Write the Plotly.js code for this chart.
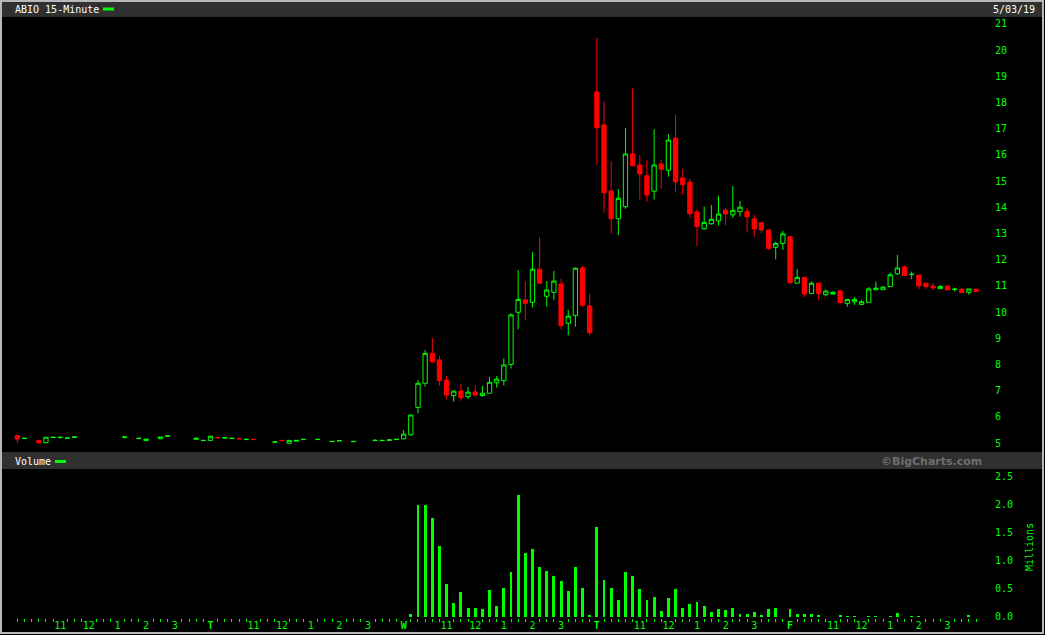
<!DOCTYPE html>
<html><head><meta charset="utf-8">
<script src="https://cdn.plot.ly/plotly-3.0.1.min.js"></script>
<style>html,body{margin:0;padding:0;background:#000;}#chart{width:1045px;height:635px;}</style>
</head><body><div id="chart"></div>
<script>
// 15-minute slots, 27 per day (9:30 ... 16:00), 5 days
const slot = [0,1,3,4,5,6,7,8,15,17,18,20,21,25,26,
  27,28,29,30,31,32,33,36,37,38,39,40,42,44,45,47,50,51,52,53,
  54,55,56,57,58,59,60,61,62,63,64,65,66,67,68,69,70,71,72,73,74,75,76,77,78,79,80,
  81,82,83,84,85,86,87,88,89,90,91,92,93,94,95,96,97,98,99,100,101,102,103,104,105,106,107,
  108,109,110,111,112,113,114,115,116,117,118,119,120,121,122,123,124,125,126,127,128,129,130,131,132,133,134];
const open = [5.28,5.17,5.09,5.01,5.21,5.21,5.18,5.22,5.22,5.17,5.09,5.16,5.26,5.14,5.09,
  5.10,5.21,5.19,5.17,5.17,5.13,5.14,5.03,5.10,4.99,5.07,5.13,5.13,5.05,5.08,5.05,5.09,5.09,5.10,5.13,
  5.16,5.31,6.36,7.28,8.42,8.17,7.40,6.81,6.98,6.77,6.95,6.81,6.90,7.30,7.38,8.00,9.99,10.46,10.37,11.63,10.60,10.75,11.07,9.57,9.87,11.68,10.23,
  18.40,17.14,14.62,13.56,14.02,16.03,15.61,15.20,14.61,15.65,15.41,16.64,15.11,14.96,13.82,13.18,13.37,13.48,13.89,13.71,13.83,13.84,13.55,13.41,13.13,12.47,12.62,
  12.87,11.10,11.32,10.71,11.10,10.66,10.68,10.80,10.33,10.39,10.29,10.37,10.85,10.85,10.97,11.46,11.72,11.43,11.41,11.10,10.99,10.89,10.99,10.86,10.87,10.75,10.87];
const high = [5.33,5.18,5.13,5.22,5.22,5.22,5.19,5.23,5.23,5.18,5.15,5.23,5.27,5.18,5.10,
  5.26,5.21,5.20,5.18,5.17,5.14,5.14,5.04,5.10,5.10,5.10,5.14,5.14,5.06,5.09,5.06,5.15,5.10,5.12,5.14,
  5.50,6.07,7.40,8.55,9.01,8.32,7.56,7.02,7.25,7.13,7.21,7.18,7.52,7.56,8.24,9.95,11.60,11.18,12.29,12.87,11.18,11.56,11.26,10.08,11.70,11.76,10.69,
  20.46,18.03,15.76,14.69,17.02,18.53,15.99,15.80,16.98,15.80,16.79,17.52,15.46,15.08,13.90,14.02,14.08,14.43,13.98,14.81,14.24,13.98,13.70,13.41,13.13,12.68,13.09,
  12.90,11.64,11.32,11.17,11.10,10.85,10.80,10.85,10.48,10.57,10.46,10.95,11.16,10.99,11.50,12.18,11.77,11.54,11.41,11.10,11.12,11.03,10.99,10.93,10.92,10.88,10.87];
const low = [4.99,5.17,5.01,5.01,5.21,5.17,5.18,5.22,5.17,5.17,5.09,5.16,5.26,5.14,5.09,
  5.10,5.20,5.19,5.17,5.16,5.13,5.13,5.03,5.09,4.99,5.07,5.13,5.13,5.05,5.08,5.05,5.09,5.09,5.10,5.13,
  5.15,5.28,6.13,7.15,8.04,7.19,6.68,6.58,6.61,6.68,6.77,6.77,6.90,7.11,7.19,7.84,9.34,9.67,10.18,11.10,10.20,10.46,9.34,9.11,9.44,10.18,9.11,
  15.61,13.79,13.00,12.94,13.94,15.58,14.29,14.21,14.29,14.71,15.16,14.59,14.48,13.60,12.52,13.14,13.33,13.31,13.32,13.60,13.64,13.03,12.87,13.00,12.37,12.01,12.37,
  11.07,11.10,10.57,10.68,10.46,10.61,10.68,10.28,10.20,10.27,10.29,10.37,10.85,10.85,10.97,11.42,11.39,11.25,10.87,10.87,10.84,10.89,10.84,10.78,10.74,10.66,10.79];
const close = [5.15,5.18,5.01,5.22,5.22,5.22,5.19,5.23,5.23,5.18,5.15,5.23,5.27,5.18,5.10,
  5.26,5.20,5.20,5.18,5.16,5.14,5.13,5.04,5.09,5.10,5.10,5.14,5.14,5.06,5.09,5.06,5.10,5.10,5.12,5.14,
  5.34,6.07,7.28,8.42,8.10,7.38,6.83,6.98,6.73,6.94,6.83,6.90,7.32,7.44,7.98,9.89,10.48,10.33,11.63,11.10,10.84,11.18,9.48,9.84,11.67,10.26,9.21,
  17.03,14.55,13.56,14.34,16.03,15.58,15.27,14.47,15.61,15.45,16.56,14.97,14.86,13.75,13.26,13.42,13.54,13.74,13.74,13.88,14.00,13.63,13.17,13.13,12.43,12.62,12.98,
  11.12,11.32,10.69,11.10,10.71,10.80,10.75,10.36,10.48,10.48,10.39,10.88,10.91,10.95,11.42,11.68,11.39,11.44,11.00,10.97,10.92,10.97,10.84,10.87,10.74,10.88,10.79];

const volSlot = [55,56,57,58,59,60,61,62,63,64,65,66,67,68,69,70,71,72,73,74,75,76,77,78,79,80,
  81,82,83,84,85,86,87,88,89,90,91,92,93,94,95,96,97,98,99,100,101,102,103,104,105,106,
  108,109,110,111,112,115,116,117,119,120,122,123,125,126,133];
const volume = [0.05,1.99,1.99,1.77,1.27,0.58,0.24,0.44,0.16,0.16,0.14,0.48,0.20,0.52,0.80,2.17,1.14,1.21,0.89,0.82,0.73,0.64,0.46,0.89,0.52,0.03,
  1.60,0.66,0.51,0.30,0.80,0.73,0.49,0.30,0.35,0.10,0.33,0.49,0.16,0.23,0.26,0.19,0.08,0.14,0.12,0.16,0.04,0.04,0.08,0.03,0.14,0.16,
  0.14,0.05,0.04,0.05,0.03,0.03,0.01,0.01,0.01,0.01,0.01,0.06,0.01,0.01,0.03];

const tickSlot = [6,10,14,18,22,27,33,37,41,45,49,54,60,64,68,72,76,81,87,91,95,99,103,108,114,118,122,126,130];
const tickText = ['11','12','1','2','3','<b>T</b>','11','12','1','2','3','<b>W</b>','11','12','1','2','3','<b>T</b>','11','12','1','2','3','<b>F</b>','11','12','1','2','3'];
const priceTicks = [5,6,7,8,9,10,11,12,13,14,15,16,17,18,19,20,21];
const volTicks = [0,0.5,1,1.5,2,2.5];
const slotCount = 135;

const W = 1045, H = 635;
const G = '#00ff00', R = '#ff0000';
const FONT = 'DejaVu Sans Mono';
const px = v => v / W, py = v => 1 - v / H;

const xr0 = -(17.3 - 4) / 7.155, xr1 = xr0 + 986 / 7.155;
const minorVals = Array.from({length: slotCount}, (_, i) => i).filter(i => tickSlot.indexOf(i) < 0);

const traces = [
  {type:'candlestick', x: slot, open: open, high: high, low: low, close: close,
   xaxis:'x', yaxis:'y', whiskerwidth: 0, hoverinfo:'skip',
   increasing:{line:{color:G, width:1}, fillcolor:'#000'},
   decreasing:{line:{color:R, width:1}, fillcolor:R}},
  {type:'bar', x: volSlot, y: volume, xaxis:'x2', yaxis:'y2', width: 0.4,
   marker:{color:G, line:{width:0}}, hoverinfo:'skip'}
];

const bar = '#303030';
const layout = {
  width: W, height: H,
  margin:{l:0, r:0, t:0, b:0, pad:0},
  paper_bgcolor:'#000', plot_bgcolor:'#000',
  showlegend:false, boxgap:0.4, boxgroupgap:0, bargap:0,
  font:{family:FONT, size:10, color:G},
  xaxis:{domain:[px(4), px(990)], range:[xr0, xr1], anchor:'y', showticklabels:false, ticks:'',
    showgrid:false, zeroline:false, showline:false, rangeslider:{visible:false}, fixedrange:true},
  yaxis:{domain:[py(452), py(18)], range:[4.6565, 21.2214], side:'right', anchor:'x',
    tickmode:'array', tickvals:priceTicks, ticks:'', showgrid:false, zeroline:false, showline:false,
    ticklabelstandoff:4, tickfont:{family:FONT, size:10, color:G}, fixedrange:true},
  xaxis2:{domain:[px(4), px(990)], range:[xr0, xr1], anchor:'y2', tickmode:'array',
    tickvals:tickSlot, ticktext:tickText, ticks:'', showgrid:false, zeroline:false, showline:false,
    tickfont:{family:FONT, size:10, color:G}, ticklabelstandoff:0,
    minor:{tickmode:'array', tickvals:minorVals, ticks:'outside', ticklen:3, tickwidth:1, tickcolor:G, showgrid:false},
    fixedrange:true},
  yaxis2:{domain:[py(618), py(470)], range:[-0.0232, 2.6196], side:'right', anchor:'x2',
    tickmode:'array', tickvals:volTicks, tickformat:'.1f', ticks:'', showgrid:false, zeroline:false, showline:false,
    ticklabelstandoff:4, tickfont:{family:FONT, size:10, color:G}, fixedrange:true},
  shapes:[
    {type:'rect', xref:'paper', yref:'paper', x0:px(2), x1:px(1042), y0:py(2), y1:py(17), fillcolor:bar, line:{width:0}, layer:'below'},
    {type:'rect', xref:'paper', yref:'paper', x0:px(2), x1:px(1042), y0:py(452), y1:py(469), fillcolor:bar, line:{width:0}, layer:'below'},
    {type:'rect', xref:'paper', yref:'paper', x0:px(103), x1:px(114), y0:py(7.5), y1:py(10.5), fillcolor:G, line:{width:0}},
    {type:'rect', xref:'paper', yref:'paper', x0:px(55), x1:px(66), y0:py(460), y1:py(463), fillcolor:G, line:{width:0}},
    {type:'rect', xref:'paper', yref:'paper', x0:px(1), x1:px(1043), y0:py(1), y1:py(633), line:{color:'#b8b8b8', width:2}, fillcolor:'rgba(0,0,0,0)'}
  ],
  annotations:[
    {text:'ABIO 15-Minute', xref:'paper', yref:'paper', x:px(13), y:py(9.5), xanchor:'left', yanchor:'middle', showarrow:false, font:{family:FONT, size:10, color:'#ffffff'}},
    {text:'5/03/19', xref:'paper', yref:'paper', x:px(1037), y:py(9.5), xanchor:'right', yanchor:'middle', showarrow:false, font:{family:FONT, size:10, color:'#ffffff'}},
    {text:'Volume', xref:'paper', yref:'paper', x:px(13), y:py(461.5), xanchor:'left', yanchor:'middle', showarrow:false, font:{family:FONT, size:10, color:'#ffffff'}},
    {text:'<b>©BigCharts.com</b>', xref:'paper', yref:'paper', x:px(984), y:py(461), xanchor:'right', yanchor:'middle', showarrow:false, font:{family:'DejaVu Sans', size:11, color:'#6e6e6e'}},
    {text:'Millions', xref:'paper', yref:'paper', x:px(1029), y:py(547), xanchor:'center', yanchor:'middle', textangle:-90, showarrow:false, font:{family:FONT, size:10, color:G}}
  ]
};

Plotly.newPlot('chart', traces, layout, {staticPlot:true, displayModeBar:false});
</script></body></html>
